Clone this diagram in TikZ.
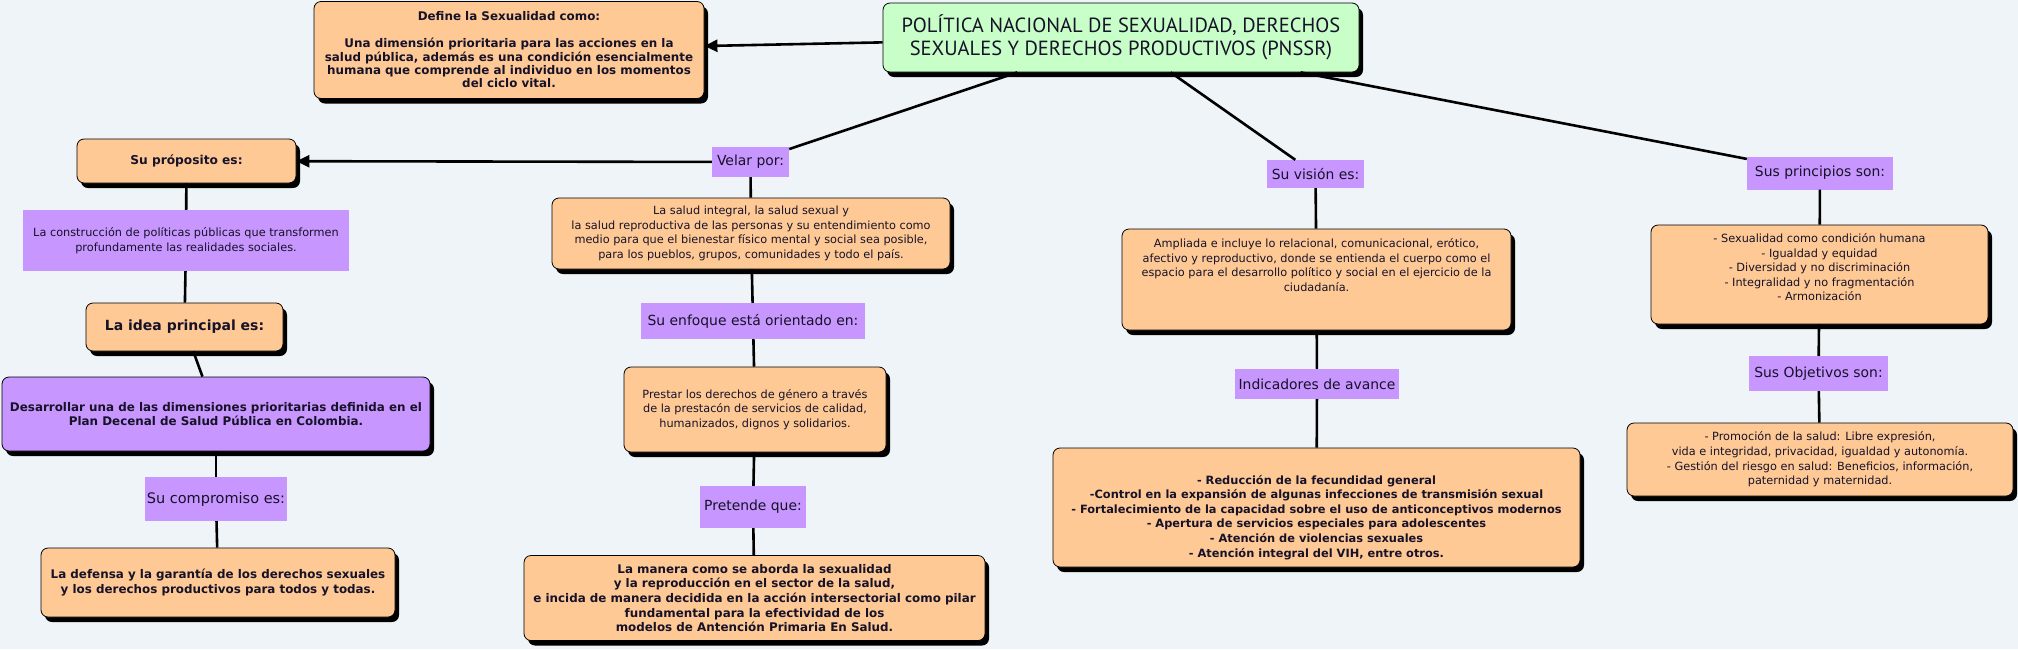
\documentclass[tikz,border=0pt]{standalone}
\usepackage{fontspec}
\setmainfont{DejaVu Sans}
\newfontfamily\titulofont{PT Sans}
\usetikzlibrary{shadows,arrows.meta}

\definecolor{fondo}{RGB}{238,244,247}
\definecolor{naranja}{RGB}{255,201,150}
\definecolor{lila}{RGB}{200,150,255}
\definecolor{verde}{RGB}{200,255,200}
\definecolor{tinta}{RGB}{22,18,40}

\newcommand{\txtcuerpo}{\fontsize{11.3}{14.6}\selectfont}
\newcommand{\txtnegrita}{\fontsize{11.9}{14.6}\selectfont\bfseries}
\newcommand{\txtdefine}{\fontsize{11.9}{13.4}\selectfont\bfseries}
\newcommand{\txtetiqueta}{\fontsize{13.9}{16}\selectfont}

\tikzset{
  caja/.style={draw=black, line width=0.8pt, rounded corners=7pt, fill=naranja,
    align=center, inner sep=0pt, text=tinta,
    drop shadow={shadow xshift=4pt, shadow yshift=-5pt, opacity=1, fill=black}},
  cajalila/.style={caja, fill=lila},
  titulo/.style={caja, fill=verde, font=\titulofont\fontsize{20.5}{23}\selectfont},
  etiqueta/.style={fill=lila, align=center, inner sep=0pt, text=tinta, font=\txtetiqueta},
  enlace/.style={line width=2.6pt},
  flecha/.style={enlace, -{Triangle[length=13pt,width=12pt]}},
}

\begin{document}
\begin{tikzpicture}[x=1pt, y=-1pt]
    \useasboundingbox (0,0) rectangle (2018,649);
    \fill[fondo] (0,0) rectangle (2018,649);

    % centro
    \node[titulo, minimum width=476pt, minimum height=69pt] (titulo) at (1121,37.5)
        {POLÍTICA NACIONAL DE SEXUALIDAD, DERECHOS\\SEXUALES Y DERECHOS PRODUCTIVOS (PNSSR)};
    \node[caja, minimum width=390pt, minimum height=97pt, font=\txtdefine] (define) at (509,50)
        {Define la Sexualidad como:\\[13.4pt]
         Una dimensión prioritaria para las acciones en la\\
         salud pública, además es una condición esencialmente\\
         humana que comprende al individuo en los momentos\\
         del ciclo vital.};

    % rama izquierda
    \node[caja, minimum width=219pt, minimum height=44pt, font=\fontsize{12.2}{15}\selectfont\bfseries] (proposito) at (186.5,161) {Su próposito es:};
    \node[etiqueta, minimum width=326pt, minimum height=61pt, font=\txtcuerpo] (construccion) at (186,240.5)
        {La construcción de políticas públicas que transformen\\profundamente las realidades sociales.};
    \node[caja, minimum width=197pt, minimum height=48pt, font=\fontsize{14}{16}\selectfont\bfseries] (idea) at (184.5,327) {La idea principal es:};
    \node[cajalila, minimum width=428pt, minimum height=74pt, font=\txtnegrita] (desarrollar) at (216,414)
        {Desarrollar una de las dimensiones prioritarias definida en el\\Plan Decenal de Salud Pública en Colombia.};
    \node[etiqueta, minimum width=142pt, minimum height=44pt, font=\fontsize{14.5}{17}\selectfont] (compromiso) at (216,499) {Su compromiso es:};
    \node[caja, minimum width=354pt, minimum height=69pt, font=\txtnegrita] (defensa) at (218,582.5)
        {La defensa y la garantía de los derechos sexuales\\y los derechos productivos para todos y todas.};

    % rama de velar por
    \node[etiqueta, minimum width=77pt, minimum height=30pt] (velar) at (750.5,162) {Velar por:};
    \node[caja, minimum width=398pt, minimum height=71pt, font=\txtcuerpo] (salud) at (751,233.5)
        {La salud integral, la salud sexual y\\
         la salud reproductiva de las personas y su entendimiento como\\
         medio para que el bienestar físico mental y social sea posible,\\
         para los pueblos, grupos, comunidades y todo el país.};
    \node[etiqueta, minimum width=224pt, minimum height=36pt] (enfoque) at (753,321) {Su enfoque está orientado en:};
    \node[caja, minimum width=262pt, minimum height=85pt, font=\txtcuerpo] (prestar) at (755,409.5)
        {Prestar los derechos de género a través\\de la prestacón de servicios de calidad,\\humanizados, dignos y solidarios.};
    \node[etiqueta, minimum width=106pt, minimum height=42pt] (pretende) at (753,507) {Pretende que:};
    \node[caja, minimum width=461pt, minimum height=85pt, font=\txtnegrita] (manera) at (754.5,598)
        {La manera como se aborda la sexualidad\\
         y la reproducción en el sector de la salud,\\
         e incida de manera decidida en la acción intersectorial como pilar\\
         fundamental para la efectividad de los\\
         modelos de Antención Primaria En Salud.};

    % rama de la vision
    \node[etiqueta, minimum width=97pt, minimum height=28pt] (vision) at (1315.5,174) {Su visión es:};
    \node[caja, minimum width=389pt, minimum height=101pt, font=\txtcuerpo] (ampliada) at (1316.5,279.5)
        {Ampliada e incluye lo relacional, comunicacional, erótico,\\
         afectivo y reproductivo, donde se entienda el cuerpo como el\\
         espacio para el desarrollo político y social en el ejercicio de la\\
         ciudadanía.\\~\\~};
    \node[etiqueta, minimum width=164pt, minimum height=30pt] (indicadores) at (1317,384) {Indicadores de avance};
    \node[caja, minimum width=527pt, minimum height=119pt, font=\fontsize{11.4}{14.6}\selectfont\bfseries] (reduccion) at (1316.5,507.5)
        {~\\[14pt]
         - Reducción de la fecundidad general\\
         -Control en la expansión de algunas infecciones de transmisión sexual\\
         - Fortalecimiento de la capacidad sobre el uso de anticonceptivos modernos\\
         - Apertura de servicios especiales para adolescentes\\
         - Atención de violencias sexuales\\
         - Atención integral del VIH, entre otros.};

    % rama de los principios
    \node[etiqueta, minimum width=146pt, minimum height=33pt] (principios) at (1820,173) {Sus principios son:};
    \node[caja, minimum width=337pt, minimum height=99pt, font=\txtcuerpo] (sexualidad) at (1819.5,274.5)
        {- Sexualidad como condición humana\\
         - Igualdad y equidad\\
         - Diversidad y no discriminación\\
         - Integralidad y no fragmentación\\
         - Armonización\\~};
    \node[etiqueta, minimum width=139pt, minimum height=35pt] (objetivos) at (1818.5,373.5) {Sus Objetivos son:};
    \node[caja, minimum width=386pt, minimum height=73pt, font=\txtcuerpo] (promocion) at (1820,459.5)
        {- Promoción de la salud: Libre expresión,\\
         vida e integridad, privacidad, igualdad y autonomía.\\
         - Gestión del riesgo en salud: Beneficios, información,\\
         paternidad y maternidad.};

    % conectores
    \draw[flecha] (titulo) -- (define);
    \draw[flecha] (velar) -- (proposito);
    \foreach \rama in {velar, vision, principios}
        \draw[enlace] (titulo) -- (\rama);
    \foreach \a/\b in {proposito/construccion, construccion/idea, idea/desarrollar,
                       desarrollar/compromiso, compromiso/defensa,
                       velar/salud, salud/enfoque, enfoque/prestar, prestar/pretende, pretende/manera,
                       vision/ampliada, ampliada/indicadores, indicadores/reduccion,
                       principios/sexualidad, sexualidad/objetivos, objetivos/promocion}
        \draw[enlace] (\a) -- (\b);
\end{tikzpicture}
\end{document}
